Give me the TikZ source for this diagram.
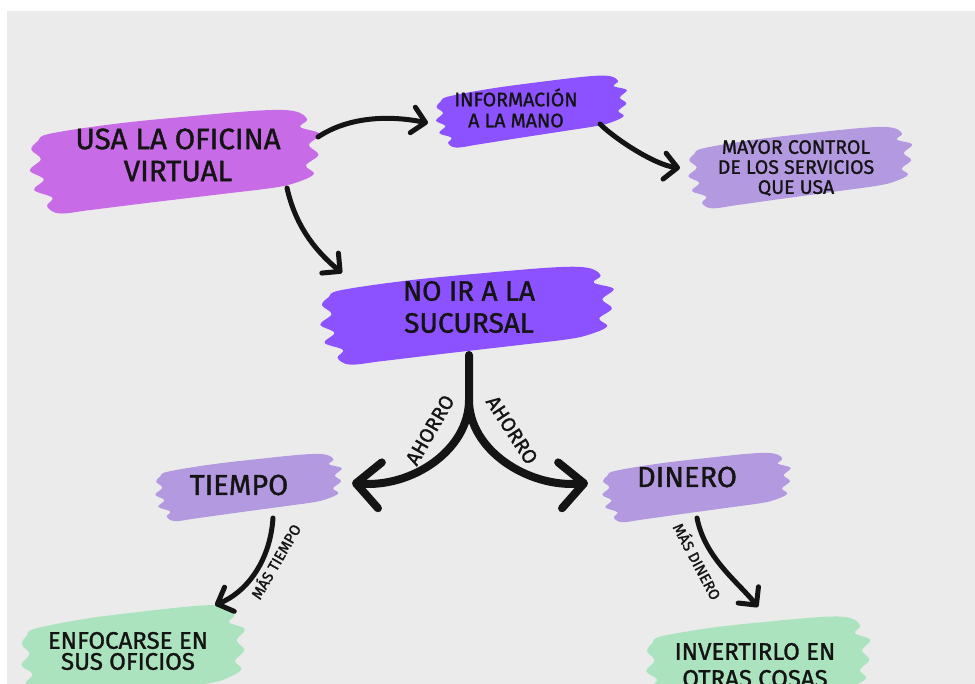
\documentclass[tikz,border=0pt]{standalone}
\usepackage{fontspec}
\setmainfont{Fira Sans}[FakeBold=1.3]
\usetikzlibrary{arrows.meta,calc}
\definecolor{usacol}{HTML}{C86BE6}
\definecolor{violet}{HTML}{8C52FF}
\definecolor{lilac}{HTML}{B39AE0}
\definecolor{mint}{HTML}{ABE3BF}
\definecolor{paper}{HTML}{EBEBEB}
\definecolor{ink}{HTML}{141414}
\newcommand\brushblob[6]{%
  \begin{scope}[shift={(#1,#2)},rotate=#6,xscale=#3/2,yscale=#4/2]
    \fill[#5] plot[smooth cycle, tension=0.6] coordinates {
      (-0.85,-0.80) (-0.40,-0.92) (0.10,-0.97) (0.60,-0.99) (0.82,-0.92)
      (0.90,-0.72) (0.85,-0.56) (0.98,-0.38) (0.90,-0.15)
      (0.96,0.08) (0.87,0.30) (0.92,0.50) (0.80,0.66) (0.65,0.74)
      (0.30,0.80) (-0.20,0.88) (-0.60,0.95) (-0.82,0.98)
      (-0.90,0.80) (-0.86,0.62) (-0.98,0.42) (-0.91,0.20) (-1.00,-0.02)
      (-0.92,-0.25) (-0.98,-0.48) (-0.93,-0.66)};
  \end{scope}}
\tikzset{
  lbl/.style={text=ink, align=center, inner sep=0pt},
  conn/.style={line width=5pt, draw=ink, line cap=round, -{Straight Barb[length=13pt,width=26pt,round]}},
  bigconn/.style={line width=8pt, draw=ink, line cap=round, -{Straight Barb[length=24pt,width=46pt,round]}},
  tag/.style={text=ink, inner sep=0pt},
}
\begin{document}
\begin{tikzpicture}[x=1pt,y=-1pt]
\useasboundingbox (0,0) rectangle (975,684);
\clip (0,0) rectangle (975,684);
\fill[white] (0,0) rectangle (975,684);
\fill[paper] (7,11) rectangle (975,684);
% brushes
\brushblob{177}{161}{295}{90}{usacol}{4}
\brushblob{533}{111}{195}{58}{violet}{6}
\brushblob{802}{167}{228}{68}{lilac}{5}
\brushblob{469}{315}{298}{84}{violet}{4}
\brushblob{250}{487}{190}{56}{lilac}{5}
\brushblob{698}{487}{192}{58}{lilac}{5}
\brushblob{135}{656}{228}{90}{mint}{5}
\brushblob{760}{664}{228}{86}{mint}{4}
% nodes
\node[lbl, font=\fontsize{29.5}{32}\selectfont] (usa) at (178,155) {USA LA OFICINA\\VIRTUAL};
\node[lbl, font=\fontsize{19.5}{21}\selectfont] (info) at (516,108) {INFORMACIÓN\\A LA MANO};
\node[lbl, font=\fontsize{19.5}{20}\selectfont] (mayor) at (796,168) {MAYOR CONTROL\\DE LOS SERVICIOS\\QUE USA};
\node[lbl, font=\fontsize{28}{32}\selectfont] (noir) at (469,307) {NO IR A LA\\SUCURSAL};
\node[lbl, font=\fontsize{29}{32}\selectfont] (tiempo) at (239,485) {TIEMPO};
\node[lbl, font=\fontsize{29}{32}\selectfont] (dinero) at (687,477) {DINERO};
\node[lbl, font=\fontsize{24}{21}\selectfont] (enfoc) at (128,651) {ENFOCARSE EN\\SUS OFICIOS};
\node[lbl, font=\fontsize{24}{27}\selectfont] (invert) at (755,665) {INVERTIRLO EN\\OTRAS COSAS};
% connectors
\draw[conn] ($(usa)+(140,-18)$) .. controls +(30,-20) and +(-40,-8) .. ($(info)+(-88,15)$);
\draw[conn] ($(usa)+(109,33)$) .. controls +(8,35) and +(-30,-25) .. ($(noir)+(-127,-34)$);
\draw[conn] ($(info)+(84,16)$) .. controls +(15,15) and +(-25,-3) .. ($(mayor)+(-116,0)$);
\coordinate (split) at ($(noir)+(0,93)$);
\draw[bigconn] ($(noir)+(0,48)$) -- (split) .. controls +(0,50) and +(60,5) .. ($(tiempo)+(113,-2)$);
\draw[bigconn] (split) .. controls +(0,50) and +(-60,5) .. ($(dinero)+(-99,6)$);
\draw[conn] ($(tiempo)+(34,33)$) .. controls +(-3,45) and +(30,-12) .. ($(enfoc)+(87,-46)$);
\draw[conn] ($(dinero)+(10,41)$) .. controls +(8,40) and +(-20,-25) .. ($(invert)+(3,-58)$);
% labels
\node[tag, font=\fontsize{20}{22}\selectfont, rotate=60] (ah1) at (430,430) {AHORRO};
\node[tag, font=\fontsize{20}{22}\selectfont, rotate=-57] (ah2) at (512,430) {AHORRO};
\node[tag, font=\fontsize{15}{16}\selectfont, rotate=60] (mt) at (275,561) {MÁS TIEMPO};
\node[tag, font=\fontsize{15}{16}\selectfont, rotate=-62] (md) at (698,561) {MÁS DINERO};
\end{tikzpicture}
\end{document}
